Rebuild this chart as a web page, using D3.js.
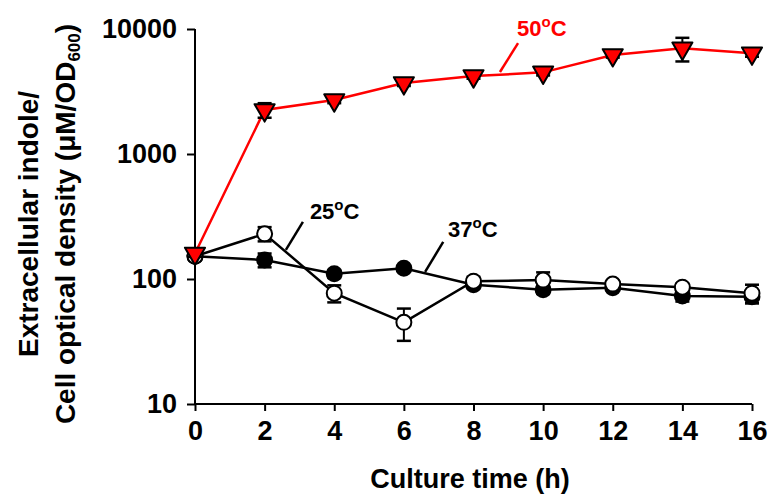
<!DOCTYPE html>
<html>
<head>
    <meta charset="utf-8">
    <title>Extracellular indole vs culture time</title>
    <script src="https://d3js.org/d3.v7.min.js"></script>
</head>
<style>
    body { margin: 0; background: #fff; }
    svg text { font-family: "Liberation Sans", Arial, sans-serif; font-weight: bold; fill: #000; }
</style>
<body>
    <svg id="chart" width="769" height="502"></svg>
    <script>
        // culture time (h)
        var times = [0, 2, 4, 6, 8, 10, 12, 14, 16];
        // 50 C (red down triangles)
        var v50 = [160, 2250, 2700, 3700, 4200, 4500, 6200, 7000, 6400];
        var e50 = [10, 300, 150, 200, 200, 250, 300, 1500, 400];
        // 25 C (open circles)
        var v25 = [152, 230, 77, 45, 96, 98, 91, 86, 77];
        var e25 = [10, 30, 12, 13, 8, 15, 6, 6, 13];
        // 37 C (filled circles)
        var v37 = [152, 142, 110, 122, 90, 82, 85, 73, 72];
        var e37 = [10, 18, 8, 6, 6, 6, 4, 7, 8];
        var xTicks = [0, 2, 4, 6, 8, 10, 12, 14, 16];
        var yTicks = [10, 100, 1000, 10000];
        // labels with leader lines, in data units: text pos, line start, line end
        var labels = [
            { name: "50", color: "red", t: 9.25, v: 8790, l1: [9.28, 7700], l2: [8.76, 4530] },
            { name: "25", color: "#000", t: 3.30, v: 302, l1: [3.10, 286], l2: [2.61, 171] },
            { name: "37", color: "#000", t: 7.27, v: 217, l1: [7.13, 198], l2: [6.61, 114] }
        ];

        var svg = d3.select("#chart");
        var x = d3.scaleLinear().domain([0, 16]).range([195, 752]);
        var y = d3.scaleLog().domain([10, 10000]).range([404, 29]);

        // axes
        var xAxis = d3.axisBottom(x).tickValues(xTicks).tickSize(7).tickPadding(10).tickFormat(d3.format("d"));
        var yAxis = d3.axisLeft(y).tickValues(yTicks).tickSize(8).tickPadding(10).tickFormat(d3.format("d"));

        var gx = svg.append("g").attr("transform", "translate(0,404)").call(xAxis);
        var gy = svg.append("g").attr("transform", "translate(195,0)").call(yAxis);
        [gx, gy].forEach(function (g) {
            g.select(".domain").attr("stroke", "#000").attr("stroke-width", 2);
            g.selectAll(".tick line").attr("stroke", "#000").attr("stroke-width", 2);
            g.selectAll(".tick text").style("font-size", "27px").attr("fill", "#000");
        });
        gx.select(".domain").attr("d", "M195,0H752");
        gy.select(".domain").attr("d", "M0,29V404");

        // axis titles
        svg.append("text")
            .attr("x", 470).attr("y", 488)
            .attr("text-anchor", "middle")
            .style("font-size", "27px")
            .text("Culture time (h)");

        var yl = svg.append("g").attr("transform", "translate(38,224) rotate(-90)");
        yl.append("text").attr("text-anchor", "middle").style("font-size", "28px")
            .text("Extracellular indole/");
        var yl2 = yl.append("text").attr("y", 37).attr("text-anchor", "middle").style("font-size", "28px");
        yl2.append("tspan").text("Cell optical density (\u03BCM/OD");
        yl2.append("tspan").attr("dy", 5).style("font-size", "17px").text("600");
        yl2.append("tspan").attr("dy", -5).text(")");

        var line = d3.line()
            .x(function (d) { return x(d.t); })
            .y(function (d) { return y(d.v); });

        function series(vals, errs) {
            return times.map(function (t, i) { return { t: t, v: vals[i], e: errs[i] }; });
        }

        function drawSeries(data, color, width) {
            var g = svg.append("g");
            g.append("path").datum(data)
                .attr("d", line)
                .attr("fill", "none")
                .attr("stroke", color)
                .attr("stroke-width", width);
            var eb = g.selectAll(".eb").data(data).enter().append("g");
            eb.append("line")
                .attr("x1", function (d) { return x(d.t); })
                .attr("x2", function (d) { return x(d.t); })
                .attr("y1", function (d) { return y(d.v + d.e); })
                .attr("y2", function (d) { return y(Math.max(d.v - d.e, 10)); })
                .attr("stroke", "#000").attr("stroke-width", 2);
            [1, -1].forEach(function (s) {
                eb.append("line")
                    .attr("x1", function (d) { return x(d.t) - 7; })
                    .attr("x2", function (d) { return x(d.t) + 7; })
                    .attr("y1", function (d) { return y(d.v + s * d.e); })
                    .attr("y2", function (d) { return y(d.v + s * d.e); })
                    .attr("stroke", "#000").attr("stroke-width", 2.5);
            });
            return g;
        }

        var g37 = drawSeries(series(v37, e37), "#000", 2.5);
        g37.selectAll(".pt").data(series(v37, e37)).enter().append("circle")
            .attr("cx", function (d) { return x(d.t); })
            .attr("cy", function (d) { return y(d.v); })
            .attr("r", 7.5)
            .attr("fill", "#000").attr("stroke", "#000").attr("stroke-width", 2);

        var g25 = drawSeries(series(v25, e25), "#000", 2.5);
        g25.selectAll(".pt").data(series(v25, e25)).enter().append("circle")
            .attr("cx", function (d) { return x(d.t); })
            .attr("cy", function (d) { return y(d.v); })
            .attr("r", 7.5)
            .attr("fill", "#fff").attr("stroke", "#000").attr("stroke-width", 2);

        var g50 = drawSeries(series(v50, e50), "red", 2.5);
        var tri = d3.symbol().type(d3.symbolTriangle).size(175);
        g50.selectAll(".pt").data(series(v50, e50)).enter().append("path")
            .attr("d", tri)
            .attr("transform", function (d) { return "translate(" + x(d.t) + "," + y(d.v) + ") rotate(180)"; })
            .attr("fill", "red").attr("stroke", "#000").attr("stroke-width", 2).attr("stroke-linejoin", "round");

        // series labels
        labels.forEach(function (lb) {
            svg.append("line")
                .attr("x1", x(lb.l1[0])).attr("y1", y(lb.l1[1]))
                .attr("x2", x(lb.l2[0])).attr("y2", y(lb.l2[1]))
                .attr("stroke", lb.color).attr("stroke-width", 2.5);
            var t = svg.append("text")
                .attr("x", x(lb.t)).attr("y", y(lb.v))
                .style("font-size", "22px").style("fill", lb.color);
            t.append("tspan").text(lb.name);
            t.append("tspan").attr("dy", -9).style("font-size", "15px").text("o");
            t.append("tspan").attr("dy", 9).text("C");
        });
    </script>
</body>
</html>
